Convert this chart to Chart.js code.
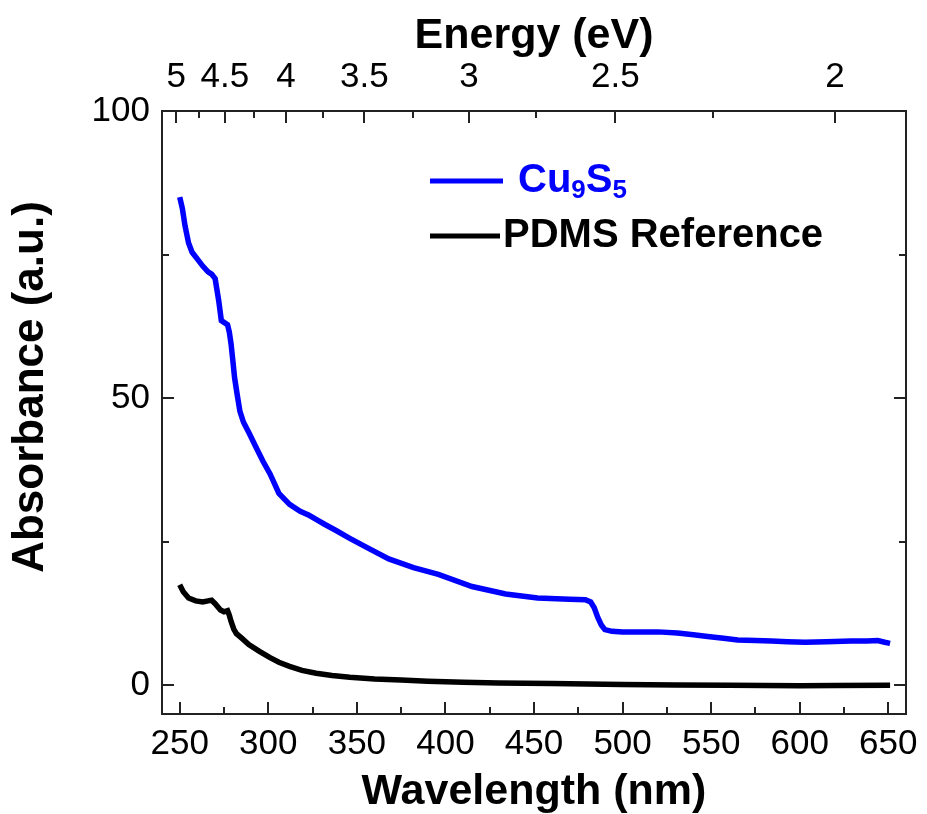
<!DOCTYPE html>
<html lang="en">
<head>
  <meta charset="UTF-8">
  <title>Cu9S5 absorbance</title>
  <script src="https://cdn.jsdelivr.net/npm/chart.js"></script>
  <style>
    body { margin: 0; background: #fff; }
    canvas { display: block; }
  </style>
</head>
<body>
  <canvas id="absChart" width="927" height="814"></canvas>

  <script>
    // data
    const cuWavelength = [250, 251.5, 253, 255, 257, 260, 263, 266, 268, 270, 272, 273.5, 275, 277, 278, 279, 280, 281, 282.5, 284,
      286, 289, 293, 297, 301, 306, 312, 318, 323, 327, 332, 338, 346, 355, 368, 382, 396, 415, 434, 452,
      470, 479, 482, 484, 486, 488, 490, 494, 500, 520, 531, 540, 548, 557, 565, 575, 584, 593, 603, 615,
      629, 638, 644, 648, 651];
    const cuAbsorbance = [85, 83, 80, 77, 75.4, 74.2, 73, 72, 71.6, 70.8, 67, 63.5, 63.2, 62.8, 61.5, 59.4, 56.5, 53.5, 50.5, 47.7,
      45.8, 44, 41.5, 39, 36.8, 33.4, 31.5, 30.3, 29.6, 28.9, 28, 27, 25.6, 24.1, 22, 20.5, 19.3, 17.2, 15.9, 15.2,
      15, 14.9, 14.5, 13.5, 11.8, 10.5, 9.7, 9.4, 9.3, 9.3, 9.1, 8.8, 8.5, 8.2, 7.9, 7.8, 7.7, 7.6, 7.5, 7.6,
      7.7, 7.7, 7.8, 7.5, 7.3];

    const pdmsWavelength = [250, 252, 255, 259, 263, 266, 268, 270, 273, 275, 277, 278, 279, 280.5, 282, 285, 289, 295, 301, 306,
      312, 319, 327, 336, 346, 360, 375, 390, 410, 430, 460, 500, 530, 560, 600, 620, 651];
    const pdmsAbsorbance = [17.5, 16.3, 15.2, 14.7, 14.5, 14.7, 14.8, 14.2, 13.1, 12.8, 13, 12.2, 11.1, 9.8, 9, 8.2, 7.1, 5.9, 4.8, 4,
      3.3, 2.6, 2.1, 1.7, 1.4, 1.1, 0.9, 0.7, 0.55, 0.4, 0.3, 0.15, 0.05, 0, -0.1, -0.05, 0];

    // ticks
    const wavelengthTicks = [250, 275, 300, 325, 350, 375, 400, 425, 450, 475, 500, 525, 550, 575, 600, 625, 650];
    const wavelengthLabels = [250, 300, 350, 400, 450, 500, 550, 600, 650];
    const energyTicks = [5, 4.75, 4.5, 4.25, 4, 3.75, 3.5, 3.25, 3, 2.75, 2.5, 2.25, 2];
    const energyLabels = ['5', '4.5', '4', '3.5', '3', '2.5', '2'];
    const absorbanceTicks = [0, 25, 50, 75, 100];
    const absorbanceLabels = [0, 50, 100];

    const HC = 1239.84; // eV*nm

    function pairs(xs, ys) {
      return xs.map((x, i) => ({ x: x, y: ys[i] }));
    }

    function energyOf(nm) {
      let best = null;
      energyTicks.forEach(e => {
        if (Math.abs(HC / e - nm) < 0.01) best = e;
      });
      return best;
    }

    // inward tick marks on all four sides + y title
    const inwardTicks = {
      id: 'inwardTicks',
      afterDraw(chart) {
        const ctx = chart.ctx;
        const a = chart.chartArea;
        const s = chart.scales;
        ctx.save();
        ctx.strokeStyle = '#222';
        ctx.lineWidth = 2;
        ctx.beginPath();
        s.x.ticks.forEach(t => {
          const px = Math.round(s.x.getPixelForValue(t.value));
          const len = wavelengthLabels.includes(t.value) ? 12 : 7;
          ctx.moveTo(px, a.bottom);
          ctx.lineTo(px, a.bottom - len);
        });
        s.x2.ticks.forEach(t => {
          const px = Math.round(s.x2.getPixelForValue(t.value));
          const e = energyOf(t.value);
          const len = energyLabels.includes(String(e)) ? 12 : 7;
          ctx.moveTo(px, a.top);
          ctx.lineTo(px, a.top + len);
        });
        s.y.ticks.forEach(t => {
          const py = Math.round(s.y.getPixelForValue(t.value));
          const len = absorbanceLabels.includes(t.value) ? 12 : 7;
          ctx.moveTo(a.left, py);
          ctx.lineTo(a.left + len, py);
          ctx.moveTo(a.right, py);
          ctx.lineTo(a.right - len, py);
        });
        ctx.stroke();

        // y axis title sits a bit above the axis middle in the original
        ctx.translate(31, 387);
        ctx.rotate(-Math.PI / 2);
        ctx.textAlign = 'center';
        ctx.textBaseline = 'middle';
        ctx.fillStyle = '#000';
        ctx.font = 'bold 44px "Liberation Sans", Arial, sans-serif';
        ctx.fillText('Absorbance (a.u.)', 0, 0);
        ctx.restore();
      }
    };

    // legend with subscripts, drawn inside the plot
    const sampleLegend = {
      id: 'sampleLegend',
      afterDatasetsDraw(chart) {
        const ctx = chart.ctx;
        const a = chart.chartArea;
        const x0 = a.left + 268;
        const y1 = a.top + 70;
        const y2 = a.top + 125;
        ctx.save();
        ctx.lineWidth = 5;
        ctx.strokeStyle = '#0000ff';
        ctx.beginPath();
        ctx.moveTo(x0, y1);
        ctx.lineTo(x0 + 73, y1);
        ctx.stroke();
        ctx.strokeStyle = '#000';
        ctx.beginPath();
        ctx.moveTo(x0, y2);
        ctx.lineTo(x0 + 70, y2);
        ctx.stroke();

        ctx.textBaseline = 'middle';
        ctx.textAlign = 'left';
        const big = 'bold 40px "Liberation Sans", Arial, sans-serif';
        const small = 'bold 26px "Liberation Sans", Arial, sans-serif';
        let tx = x0 + 88;
        ctx.fillStyle = '#0000ff';
        [['Cu', big, 0], ['9', small, 10], ['S', big, 0], ['5', small, 10]].forEach(p => {
          ctx.font = p[1];
          ctx.fillText(p[0], tx, y1 + p[2]);
          tx += ctx.measureText(p[0]).width;
        });
        ctx.fillStyle = '#000';
        ctx.font = big;
        ctx.fillText('PDMS Reference', x0 + 73, y2);
        ctx.restore();
      }
    };

    const tickFont = { family: '"Liberation Sans", Arial, sans-serif', size: 35 };
    const titleFont = { family: '"Liberation Sans", Arial, sans-serif', size: 43, weight: 'bold', lineHeight: 1 };
    const axisBorder = { display: true, color: '#222', width: 2 };
    const noGrid = { display: false, drawTicks: false };

    new Chart(document.getElementById('absChart'), {
      type: 'line',
      data: {
        datasets: [{
          label: 'Cu9S5',
          data: pairs(cuWavelength, cuAbsorbance),
          borderColor: '#0000ff',
          borderWidth: 5.5,
          pointRadius: 0,
          xAxisID: 'x',
          yAxisID: 'y'
        }, {
          label: 'PDMS Reference',
          data: pairs(pdmsWavelength, pdmsAbsorbance),
          borderColor: '#000',
          borderWidth: 5.5,
          pointRadius: 0,
          xAxisID: 'x',
          yAxisID: 'y'
        }]
      },
      options: {
        responsive: false,
        animation: false,
        layout: { padding: 0 },
        plugins: {
          legend: { display: false },
          tooltip: { enabled: false }
        },
        scales: {
          x: {
            type: 'linear',
            position: 'bottom',
            min: 240,
            max: 660,
            grid: noGrid,
            border: axisBorder,
            afterBuildTicks: sc => { sc.ticks = wavelengthTicks.map(v => ({ value: v })); },
            afterFit: sc => { sc.height = 100; },
            ticks: {
              font: tickFont,
              color: '#000',
              padding: 9,
              autoSkip: false,
              maxRotation: 0,
              callback: v => wavelengthLabels.includes(v) ? String(v) : ''
            },
            title: { display: true, text: 'Wavelength (nm)', font: titleFont, color: '#000', padding: { top: 0, bottom: 0 } }
          },
          x2: {
            type: 'linear',
            position: 'top',
            min: 240,
            max: 660,
            grid: noGrid,
            border: axisBorder,
            afterBuildTicks: sc => { sc.ticks = energyTicks.map(e => ({ value: HC / e })); },
            afterFit: sc => { sc.height = 111; },
            ticks: {
              font: tickFont,
              color: '#000',
              padding: 13,
              autoSkip: false,
              maxRotation: 0,
              callback: v => {
                const e = energyOf(v);
                return energyLabels.includes(String(e)) ? String(e) : '';
              }
            },
            title: { display: true, text: 'Energy (eV)', font: titleFont, color: '#000', padding: { top: 15, bottom: 0 } }
          },
          y: {
            type: 'linear',
            position: 'left',
            min: -5,
            max: 100,
            grid: noGrid,
            border: axisBorder,
            afterBuildTicks: sc => { sc.ticks = absorbanceTicks.map(v => ({ value: v })); },
            afterFit: sc => { sc.width = 162; },
            ticks: {
              font: tickFont,
              color: '#000',
              padding: 12,
              callback: v => absorbanceLabels.includes(v) ? String(v) : ''
            },
            title: { display: false }
          },
          y2: {
            type: 'linear',
            position: 'right',
            min: -5,
            max: 100,
            grid: noGrid,
            border: axisBorder,
            afterFit: sc => { sc.width = 17; },
            ticks: { display: false }
          }
        }
      },
      plugins: [inwardTicks, sampleLegend]
    });
  </script>
</body>
</html>
